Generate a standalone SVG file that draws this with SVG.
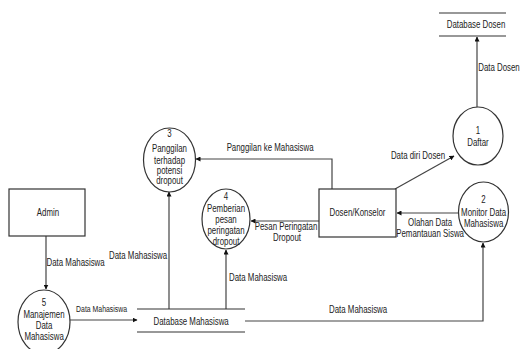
<svg xmlns="http://www.w3.org/2000/svg" width="521" height="349" viewBox="0 0 521 349">
<defs>
<marker id="arr" viewBox="0 0 10 10" refX="9" refY="5" markerWidth="5" markerHeight="5" orient="auto" markerUnits="userSpaceOnUse">
<path d="M0,0 L10,5 L0,10 z" fill="#111"/>
</marker>
<style>
text{font-family:"Liberation Sans",Arial,sans-serif;font-size:10.5px;fill:#222;text-anchor:middle;transform-box:fill-box;transform-origin:center;transform:scaleX(0.75)}
.s{font-size:9.2px}
.box{fill:#fff;stroke:#333;stroke-width:1.2}
.proc{fill:#fff;stroke:#333;stroke-width:1.2}
.store{stroke:#333;stroke-width:1.2}
.flow{fill:none;stroke:#444;stroke-width:1.2;marker-end:url(#arr)}
</style>
</defs>
<rect width="521" height="349" fill="#fff"/>
<g id="connectors">
<path class="flow" d="M477,107 L477,37"/>
<path class="flow" d="M395,189 L454,156"/>
<path class="flow" d="M459,213 L397,213"/>
<path class="flow" d="M245,321 L483,321 L483,243"/>
<path class="flow" d="M332,189 L332,159 L196,159"/>
<path class="flow" d="M319,221 L251,221"/>
<path class="flow" d="M169,309 L169,192"/>
<path class="flow" d="M226,309 L226,250"/>
<path class="flow" d="M46,236 L46,289"/>
<path class="flow" d="M70,320 L137,320"/>
<text x="499" y="71">Data Dosen</text>
<text x="418" y="159">Data diri Dosen</text>
<text x="430" y="226">Olahan Data</text>
<text x="430" y="237">Pemantauan Siswa</text>
<text x="358" y="313">Data Mahasiswa</text>
<text x="270" y="151">Panggilan ke Mahasiswa</text>
<text x="286" y="230">Pesan Peringatan</text>
<text x="287" y="241">Dropout</text>
<text x="138" y="259">Data Mahasiswa</text>
<text x="258" y="281">Data Mahasiswa</text>
<text x="75.5" y="266">Data Mahasiswa</text>
<text class="s" x="101.5" y="312">Data Mahasiswa</text>
</g>
<g id="db-dosen">
<line class="store" x1="439" y1="13" x2="506" y2="13"/>
<line class="store" x1="439" y1="36" x2="506" y2="36"/>
<text x="476" y="28">Database Dosen</text>
</g>
<g id="db-mahasiswa">
<line class="store" x1="137" y1="309" x2="245" y2="309"/>
<line class="store" x1="137" y1="332" x2="245" y2="332"/>
<text x="191" y="325">Database Mahasiswa</text>
</g>
<g id="admin">
<rect class="box" x="9" y="189" width="76" height="47"/>
<text x="48" y="216">Admin</text>
</g>
<g id="dosen">
<rect class="box" x="319" y="189" width="77" height="48"/>
<text x="357.5" y="216">Dosen/Konselor</text>
</g>
<g id="p1">
<ellipse class="proc" cx="478" cy="136" rx="25" ry="29"/>
<text x="478" y="134">1</text>
<text x="478" y="146">Daftar</text>
</g>
<g id="p2">
<ellipse class="proc" cx="483.5" cy="212" rx="25" ry="30"/>
<text x="483.5" y="203">2</text>
<text x="483.5" y="216">Monitor Data</text>
<text x="483.5" y="227">Mahasiswa</text>
</g>
<g id="p3">
<ellipse class="proc" cx="169.5" cy="160" rx="26" ry="32"/>
<text x="169.5" y="137">3</text>
<text x="169.5" y="152">Panggilan</text>
<text x="169.5" y="164">terhadap</text>
<text x="169.5" y="174">potensi</text>
<text x="169.5" y="184">dropout</text>
</g>
<g id="p4">
<ellipse class="proc" cx="226" cy="219" rx="24" ry="30"/>
<text x="226" y="200">4</text>
<text x="226" y="212">Pemberian</text>
<text x="226" y="223">pesan</text>
<text x="226" y="234">peringatan</text>
<text x="226" y="245">dropout</text>
</g>
<g id="p5">
<ellipse class="proc" cx="44" cy="322" rx="26" ry="32"/>
<text x="44" y="306">5</text>
<text x="44" y="318">Manajemen</text>
<text x="44" y="329">Data</text>
<text x="44" y="340">Mahasiswa</text>
</g>
</svg>
